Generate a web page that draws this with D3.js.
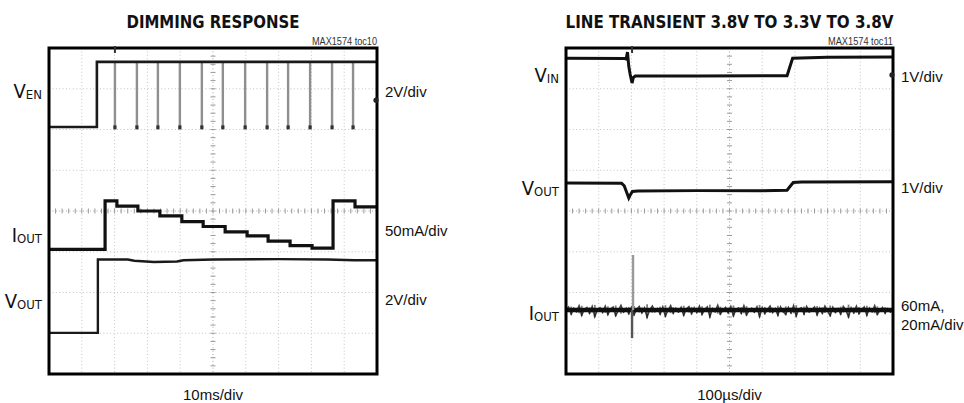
<!DOCTYPE html>
<html>
<head>
<meta charset="utf-8">
<script src="https://cdn.jsdelivr.net/npm/d3@7"></script>
<style>
  html, body { margin: 0; padding: 0; background: #fff; }
  svg { display: block; }
  text { font-family: "Liberation Sans", Arial, sans-serif; fill: #111; }
</style>
</head>
<body>
<div id="chart"></div>
<script>
// scope screen units: time in divisions (0..10), trace level in divisions from top (0..8)
const gridCols = 10;
const gridRows = 8;

// left scope: dimming response
const venTrace = [[0, 1.94], [1.46, 1.94], [1.46, 0.34], [10, 0.34]];
const venPulses = [2.01, 2.68, 3.32, 3.99, 4.66, 5.30, 5.98, 6.65, 7.29, 7.96, 8.63, 9.27];
const venPulseLow = 1.96;
const ioutStepT = [0, 1.71, 2.07, 2.71, 3.38, 4.05, 4.70, 5.37, 6.04, 6.68, 7.35, 8.02, 8.66, 9.33, 10];
const ioutStepV = [4.94, 3.75, 3.88, 4.00, 4.12, 4.26, 4.38, 4.51, 4.61, 4.74, 4.85, 4.91, 3.75, 3.90, 3.90];
const voutDimTrace = [[0, 6.99], [1.49, 6.99], [1.49, 5.19], [2.4, 5.19], [2.6, 5.22], [3.2, 5.25], [3.9, 5.24],
  [4.1, 5.21], [5, 5.19], [7, 5.18], [8.5, 5.19], [9.3, 5.21], [10, 5.21]];

// right scope: line transient
const vinTrace = [[0, 0.25], [1.80, 0.26], [1.84, 0.27], [1.88, 0.10], [1.92, 0.45], [1.96, 0.64], [2.02, 0.86],
  [2.06, 0.72], [2.12, 0.69], [4, 0.69], [6.0, 0.68], [6.76, 0.68], [6.84, 0.48], [6.93, 0.25], [8, 0.23], [10, 0.22]];
const voutLineTrace = [[0, 3.31], [1.70, 3.32], [1.78, 3.38], [1.86, 3.55], [1.92, 3.68], [1.97, 3.60], [2.03, 3.52],
  [2.2, 3.51], [4, 3.50], [6, 3.50], [6.76, 3.49], [6.85, 3.40], [6.95, 3.30], [7.2, 3.29], [10, 3.28]];
const ioutLevel = 6.43;
const ioutSpike = { t: 2.05, top: 5.08, bottom: 7.12 };
const ioutNoiseStep = 0.08;
const ioutNoise = [
  .03, -.05, .12, -.02, .06, -.08, .15, .01, -.04, .10, -.06, .18, .02, -.03, .08, -.07, .13, .00, -.05, .16, .04, -.09, .07, -.02, .11,
  -.04, .14, .01, -.06, .09, -.03, .20, .02, -.07, .06, -.01, .12, -.05, .17, .03, -.08, .10, -.02, .07, -.04, .15, .00, -.06, .11, -.03,
  .08, -.07, .13, .02, -.05, .19, -.01, .06, -.09, .12, .03, -.04, .09, -.06, .16, .01, -.03, .10, -.08, .14, .04, -.02, .07, -.05, .18,
  -.03, .11, .02, -.07, .08, -.01, .15, -.05, .06, .13, -.04, .09, -.08, .17, .00, -.03, .12, -.06, .07, .02, -.05, .14, -.02, .10, -.07,
  .05, .16, -.04, .08, -.01, .12, -.06, .03, .19, -.03, .09, -.07, .11, .01, -.05, .15, -.02, .06, -.08, .13, .04, -.04, .10, -.01, .07
];

const panels = [
  {
    title: "DIMMING RESPONSE", titleLen: 173, tag: "MAX1574 toc10", timebase: "10ms/div",
    x0: 49, y0: 48, w: 328, h: 326, trigT: 2.01, markerV: 1.28,
    labels: [
      { main: "V", sub: "EN", y: 98, scale: ["2V/div"], sy: 97 },
      { main: "I", sub: "OUT", y: 242, scale: ["50mA/div"], sy: 236 },
      { main: "V", sub: "OUT", y: 308, scale: ["2V/div"], sy: 305 }
    ]
  },
  {
    title: "LINE TRANSIENT 3.8V TO 3.3V TO 3.8V", titleLen: 328, tag: "MAX1574 toc11", timebase: "100\u00b5s/div",
    x0: 566, y0: 48, w: 327, h: 326, trigT: 2.02, markerV: 0.66,
    labels: [
      { main: "V", sub: "IN", y: 82, scale: ["1V/div"], sy: 82 },
      { main: "V", sub: "OUT", y: 195, scale: ["1V/div"], sy: 193 },
      { main: "I", sub: "OUT", y: 320, scale: ["60mA,", "20mA/div"], sy: 311 }
    ]
  }
];

const svg = d3.select("#chart").append("svg")
  .attr("width", 964)
  .attr("height", 403);

function drawPanel(p) {
  const x = d3.scaleLinear().domain([0, gridCols]).range([p.x0, p.x0 + p.w]);
  const y = d3.scaleLinear().domain([0, gridRows]).range([p.y0, p.y0 + p.h]);
  const g = svg.append("g");
  p.x = x; p.y = y; p.g = g;

  // title and tag
  g.append("text")
    .attr("x", x(5)).attr("y", 28)
    .attr("text-anchor", "middle")
    .attr("textLength", p.titleLen).attr("lengthAdjust", "spacingAndGlyphs")
    .style("font-family", '"DejaVu Sans Condensed", "DejaVu Sans", sans-serif')
    .style("font-weight", "bold")
    .style("font-size", "18px")
    .text(p.title);

  g.append("text")
    .attr("x", x(10)).attr("y", 45)
    .attr("text-anchor", "end")
    .attr("textLength", 65).attr("lengthAdjust", "spacingAndGlyphs")
    .style("font-size", "10.5px")
    .style("fill", "#333")
    .text(p.tag);

  // grid
  const grid = g.append("g").attr("stroke", "#c4c4c4").attr("stroke-width", 1).attr("stroke-dasharray", "1 2.4");
  d3.range(1, gridCols).forEach(i => {
    grid.append("line").attr("x1", x(i)).attr("x2", x(i)).attr("y1", y(0)).attr("y2", y(gridRows))
      .attr("stroke", i === 5 ? "#a8a8a8" : null);
  });
  d3.range(1, gridRows).forEach(j => {
    grid.append("line").attr("x1", x(0)).attr("x2", x(gridCols)).attr("y1", y(j)).attr("y2", y(j))
      .attr("stroke", j === 4 ? "#a8a8a8" : null);
  });
  // minor ticks on centre axes
  const ticks = g.append("g").attr("stroke", "#9a9a9a").attr("stroke-width", 1);
  d3.range(0, gridCols + 0.001, 0.2).forEach(t => {
    ticks.append("line").attr("x1", x(t)).attr("x2", x(t)).attr("y1", y(4) - 2.5).attr("y2", y(4) + 2.5);
  });
  d3.range(0, gridRows + 0.001, 0.2).forEach(v => {
    ticks.append("line").attr("x1", x(5) - 2.5).attr("x2", x(5) + 2.5).attr("y1", y(v)).attr("y2", y(v));
  });

  // channel labels
  p.labels.forEach(l => {
    const t = g.append("text")
      .attr("x", p.x0 - 7).attr("y", l.y)
      .attr("text-anchor", "end")
      .style("font-family", '"DejaVu Sans Condensed", "Liberation Sans", sans-serif');
    t.append("tspan").style("font-size", "20px").text(l.main);
    t.append("tspan").attr("dy", 1).style("font-size", "13px").text(l.sub);

    l.scale.forEach((s, k) => {
      g.append("text")
        .attr("x", p.x0 + p.w + 8).attr("y", l.sy + k * 19)
        .style("font-size", "15px")
        .text(s);
    });
  });

  g.append("text")
    .attr("x", x(5)).attr("y", 400)
    .attr("text-anchor", "middle")
    .style("font-size", "15px")
    .text(p.timebase);
}

panels.forEach(drawPanel);

const trace = (p) => d3.line().x(d => p.x(d[0])).y(d => p.y(d[1]));

// ---- left scope traces
const L = panels[0];
L.g.append("g")
  .selectAll("line")
  .data(venPulses)
  .join("line")
  .attr("x1", d => L.x(d)).attr("x2", d => L.x(d))
  .attr("y1", L.y(venTrace[2][1])).attr("y2", L.y(venPulseLow))
  .attr("stroke", "#8f8f8f").attr("stroke-width", 2.4);
L.g.append("g")
  .selectAll("rect")
  .data(venPulses)
  .join("rect")
  .attr("x", d => L.x(d) - 1.6).attr("y", L.y(venPulseLow) - 2.5)
  .attr("width", 3.2).attr("height", 4)
  .attr("fill", "#333");
L.g.append("path")
  .datum(venTrace)
  .attr("d", trace(L))
  .attr("fill", "none").attr("stroke", "#1a1a1a").attr("stroke-width", 2.6);

L.g.append("path")
  .datum(ioutStepT.map((t, i) => [t, ioutStepV[i]]))
  .attr("d", trace(L).curve(d3.curveStepAfter))
  .attr("fill", "none").attr("stroke", "#111").attr("stroke-width", 3.2);

L.g.append("path")
  .datum(voutDimTrace)
  .attr("d", trace(L))
  .attr("fill", "none").attr("stroke", "#1a1a1a").attr("stroke-width", 2.4);

// ---- right scope traces
const R = panels[1];
R.g.append("path")
  .datum(vinTrace)
  .attr("d", trace(R))
  .attr("fill", "none").attr("stroke", "#111").attr("stroke-width", 3);

R.g.append("path")
  .datum(voutLineTrace)
  .attr("d", trace(R))
  .attr("fill", "none").attr("stroke", "#111").attr("stroke-width", 3);

const noisePts = ioutNoise.map((n, i) => [i * ioutNoiseStep, ioutLevel + n]);
noisePts.push([10, ioutLevel]);
// grey spikes of the noisy current trace
R.g.append("g")
  .selectAll("line")
  .data(noisePts)
  .join("line")
  .attr("x1", d => R.x(d[0])).attr("x2", d => R.x(d[0]))
  .attr("y1", d => R.y(ioutLevel - Math.abs(d[1] - ioutLevel) * 0.7)).attr("y2", d => R.y(ioutLevel + Math.abs(d[1] - ioutLevel)))
  .attr("stroke", "#6a6a6a").attr("stroke-width", 1.8).attr("opacity", 0.85);
R.g.append("line")
  .attr("x1", R.x(0)).attr("x2", R.x(10)).attr("y1", R.y(ioutLevel)).attr("y2", R.y(ioutLevel))
  .attr("stroke", "#111").attr("stroke-width", 4.5);
R.g.append("path")
  .datum(noisePts)
  .attr("d", trace(R))
  .attr("fill", "none").attr("stroke", "#111").attr("stroke-width", 1.6).attr("opacity", 0.8)
  .attr("transform", "translate(0,-1)");
R.g.append("line")
  .attr("x1", R.x(ioutSpike.t)).attr("x2", R.x(ioutSpike.t))
  .attr("y1", R.y(ioutSpike.top)).attr("y2", R.y(ioutLevel))
  .attr("stroke", "#9a9a9a").attr("stroke-width", 2.4);
R.g.append("line")
  .attr("x1", R.x(ioutSpike.t - 0.03)).attr("x2", R.x(ioutSpike.t - 0.03))
  .attr("y1", R.y(ioutLevel)).attr("y2", R.y(ioutSpike.bottom))
  .attr("stroke", "#555").attr("stroke-width", 2.4);

// frames, trigger marks and level markers
panels.forEach(p => {
  p.g.append("rect")
    .attr("x", p.x0).attr("y", p.y0).attr("width", p.w).attr("height", p.h)
    .attr("fill", "none").attr("stroke", "#000").attr("stroke-width", 3);
  p.g.append("line")
    .attr("x1", p.x(p.trigT)).attr("x2", p.x(p.trigT))
    .attr("y1", p.y0 - 2).attr("y2", p.y0 + 5)
    .attr("stroke", "#333").attr("stroke-width", 2);
  p.g.append("circle")
    .attr("cx", p.x0 + p.w - 1).attr("cy", p.y(p.markerV)).attr("r", 2.6)
    .attr("fill", "#222");
});
</script>
</body>
</html>
